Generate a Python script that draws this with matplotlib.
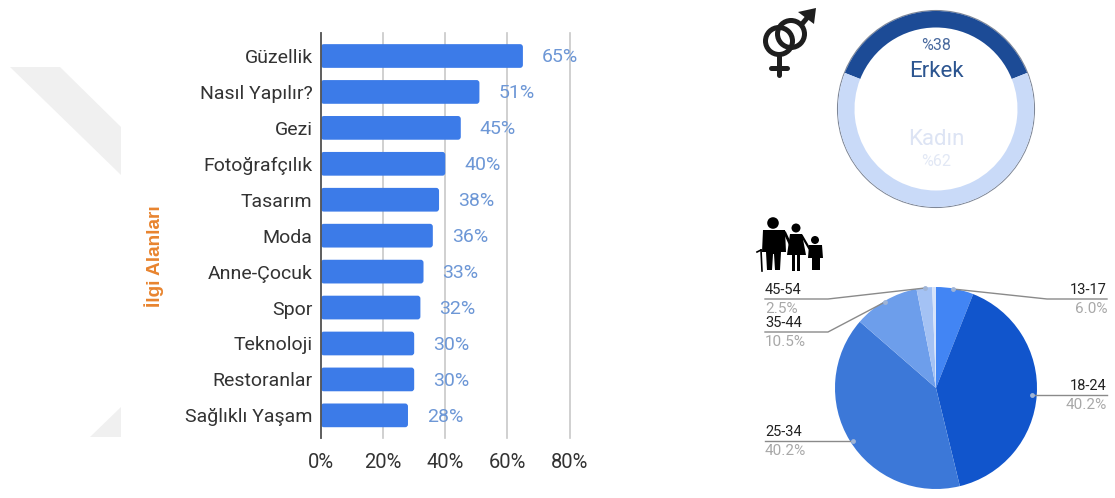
import matplotlib
matplotlib.use('Agg')
import numpy as np
import matplotlib.pyplot as plt
from matplotlib.patches import Polygon, Circle, Rectangle, FancyBboxPatch

W, H = 1115, 498

interests = ['Güzellik', 'Nasıl Yapılır?', 'Gezi', 'Fotoğrafçılık', 'Tasarım', 'Moda',
             'Anne-Çocuk', 'Spor', 'Teknoloji', 'Restoranlar', 'Sağlıklı Yaşam']
interest_pct = [65, 51, 45, 40, 38, 36, 33, 32, 30, 30, 28]
x_ticks = [0, 20, 40, 60, 80]

gender_names = ['Erkek', 'Kadın']
gender_pct = [38, 62]

age_groups = ['13-17', '18-24', '25-34', '35-44', '45-54']
age_pct = [6.0, 40.2, 40.2, 10.5, 2.5]
age_rest = [0.6]

plt.rcParams['font.family'] = ['Roboto', 'DejaVu Sans']


def box(left, top, right, bottom):
    # pixel box (from the top left) to figure fractions
    return [left / W, 1 - bottom / H, (right - left) / W, (bottom - top) / H]


fig = plt.figure(figsize=(W / 100, H / 100), dpi=100, facecolor='white')

# pixel layer for decoration, leader lines and icons
bg = fig.add_axes([0, 0, 1, 1], zorder=0)
bg.set_xlim(0, W)
bg.set_ylim(H, 0)
bg.axis('off')
bg.add_patch(Polygon([(10, 67), (60, 67), (121, 127), (121, 175)], color='#f0f0f0', lw=0))
bg.add_patch(Polygon([(90, 437), (121, 437), (121, 407)], color='#f0f0f0', lw=0))

# interests bar chart, bars with slightly rounded corners
ax = fig.add_axes(box(321, 33, 569.5, 438), zorder=1)
ax.patch.set_alpha(0)
y = np.arange(len(interests))
bar_h = 0.66
for i, v in enumerate(interest_pct):
    ax.add_patch(FancyBboxPatch((0, i - bar_h / 2), v, bar_h, boxstyle='round,pad=0,rounding_size=0.9',
                                mutation_aspect=0.09, fc='#3c7be8', ec='none', zorder=3))
ax.set_ylim(len(interests) - 0.37, -0.64)
ax.set_xlim(0, 80)
ax.set_yticks(y, interests)
ax.set_xticks(x_ticks, [f'{t}%' for t in x_ticks])
ax.tick_params(axis='y', length=0, pad=6, labelsize=14, labelcolor='#333333')
ax.tick_params(axis='x', length=0, pad=11, labelsize=14.5, labelcolor='#333333')
ax.grid(axis='x', color='#c8c8c8', lw=1.2, zorder=0)
for line in ax.get_xgridlines():
    line.set_clip_on(False)
for side in ['top', 'right', 'bottom']:
    ax.spines[side].set_visible(False)
ax.spines['left'].set_color('#555555')
ax.spines['left'].set_linewidth(1.3)
ax.spines['left'].set_zorder(4)
for i, v in enumerate(interest_pct):
    ax.annotate(f'{v}%', (v, i), xytext=(19, -1.5), textcoords='offset pixels', va='center',
                fontsize=14, color='#6d97d6', zorder=5)

bg.text(154, 256, 'İlgi Alanları', rotation=90, ha='center', va='center', fontsize=13.7,
        fontweight='bold', color='#e8842f', family=['Liberation Sans', 'DejaVu Sans'])

# gender donut, male arc centred on the top
ring = fig.add_axes(box(836, 9, 1036, 209), zorder=1)
ring.add_patch(Circle((0, 0), 0.985, fill=False, ec='#7f8797', lw=0.8, zorder=0))
ring.pie(gender_pct, colors=['#1c4b96', '#c9daf8'], radius=0.98,
         startangle=90 + gender_pct[0] * 1.8, counterclock=False,
         wedgeprops={'width': 0.165, 'linewidth': 0})
ring.set_xlim(-1, 1)
ring.set_ylim(-1, 1)
ring.text(0, 0.63, f'%{gender_pct[0]}', ha='center', va='center', fontsize=11.5, color='#4a6a9e')
ring.text(0, 0.37, gender_names[0], ha='center', va='center', fontsize=16, color='#2c5590')
ring.text(0, -0.31, gender_names[1], ha='center', va='center', fontsize=16, color='#dde4f4')
ring.text(0, -0.53, f'%{gender_pct[1]}', ha='center', va='center', fontsize=11.5, color='#e2e8f5')

# age pie, clockwise from the top
pie = fig.add_axes(box(835, 287, 1037, 489), zorder=2)
pie.pie(age_pct + age_rest, colors=['#4285f4', '#1155cc', '#3c78d8', '#6d9eeb', '#a4c2f4', '#d6e3fa'],
        startangle=90, counterclock=False, radius=1.0,
        wedgeprops={'linewidth': 0})
pie.set_xlim(-1, 1)
pie.set_ylim(-1, 1)

# leader lines: dot inside each slice, then elbow and rule under its label
dots = [(953, 289), (1032, 395), (853, 441), (885, 302), (925, 288)]
elbows = [[(1047, 299), (1107, 299)], [(1107, 395)], [(765, 441)],
          [(828, 332), (765, 332)], [(828, 299), (765, 299)]]
for k, name in enumerate(age_groups):
    px, py = dots[k]
    pts = [dots[k]] + elbows[k]
    fig.add_artist(plt.Line2D([p[0] / W for p in pts], [1 - p[1] / H for p in pts],
                              transform=fig.transFigure, color='#8a8a8a', lw=1, zorder=5))
    fig.add_artist(plt.Line2D([px / W], [1 - py / H], transform=fig.transFigure, marker='o', ms=3.5,
                              color='#9fb4d6', mew=0, zorder=6))
    end = elbows[k][-1]
    ha = 'right' if end[0] > 936 else 'left'
    bg.text(end[0], end[1] - 2, name, ha=ha, va='bottom', fontsize=10.5, color='#222222')
    bg.text(end[0], end[1] + 3, f'{age_pct[k]:.1f}%', ha=ha, va='top', fontsize=11, color='#a8a8a8')

# gender symbols icon
ic = '#1e1e1e'
bg.add_patch(Circle((779, 41), 13.5, fill=False, ec=ic, lw=3.6))
bg.add_patch(Circle((791, 34), 13.5, fill=False, ec=ic, lw=3.6))
bg.plot([802, 812], [24, 12], color=ic, lw=3.6, solid_capstyle='butt')
bg.add_patch(Polygon([(798, 12), (816, 8), (814, 24)], color=ic, lw=0))
bg.plot([779, 779], [56, 75], color=ic, lw=3.6, solid_capstyle='round')
bg.plot([771, 787], [68, 68], color=ic, lw=3.6, solid_capstyle='round')

# family icon: grandfather with cane, woman, child
fam = '#000000'
bg.add_patch(Circle((773, 223), 5.8, color=fam, lw=0))
bg.add_patch(Polygon([(763, 230), (785, 230), (786, 252), (781, 252), (780, 270), (775, 270), (774, 254),
                      (773, 254), (772, 270), (767, 270), (766, 252), (762, 252)], color=fam, lw=0))
bg.plot([757, 761], [252, 250], color=fam, lw=1.2)
bg.plot([761, 762], [250, 271], color=fam, lw=1.2)
bg.plot([785, 791], [233, 246], color=fam, lw=2)
bg.add_patch(Circle((796, 228), 4.5, color=fam, lw=0))
bg.add_patch(Polygon([(790, 234), (802, 234), (806, 255), (787, 255)], color=fam, lw=0))
bg.add_patch(Rectangle((792, 255), 3, 15.5, color=fam, lw=0))
bg.add_patch(Rectangle((797, 255), 3, 15.5, color=fam, lw=0))
bg.plot([802, 809], [236, 248], color=fam, lw=1.6)
bg.add_patch(Circle((815, 240), 4, color=fam, lw=0))
bg.add_patch(Polygon([(809, 245), (822, 245), (823, 258), (820, 258), (820, 270), (812, 270), (812, 258), (808, 258)],
                     color=fam, lw=0))

fig.savefig('out.png', dpi=100)
